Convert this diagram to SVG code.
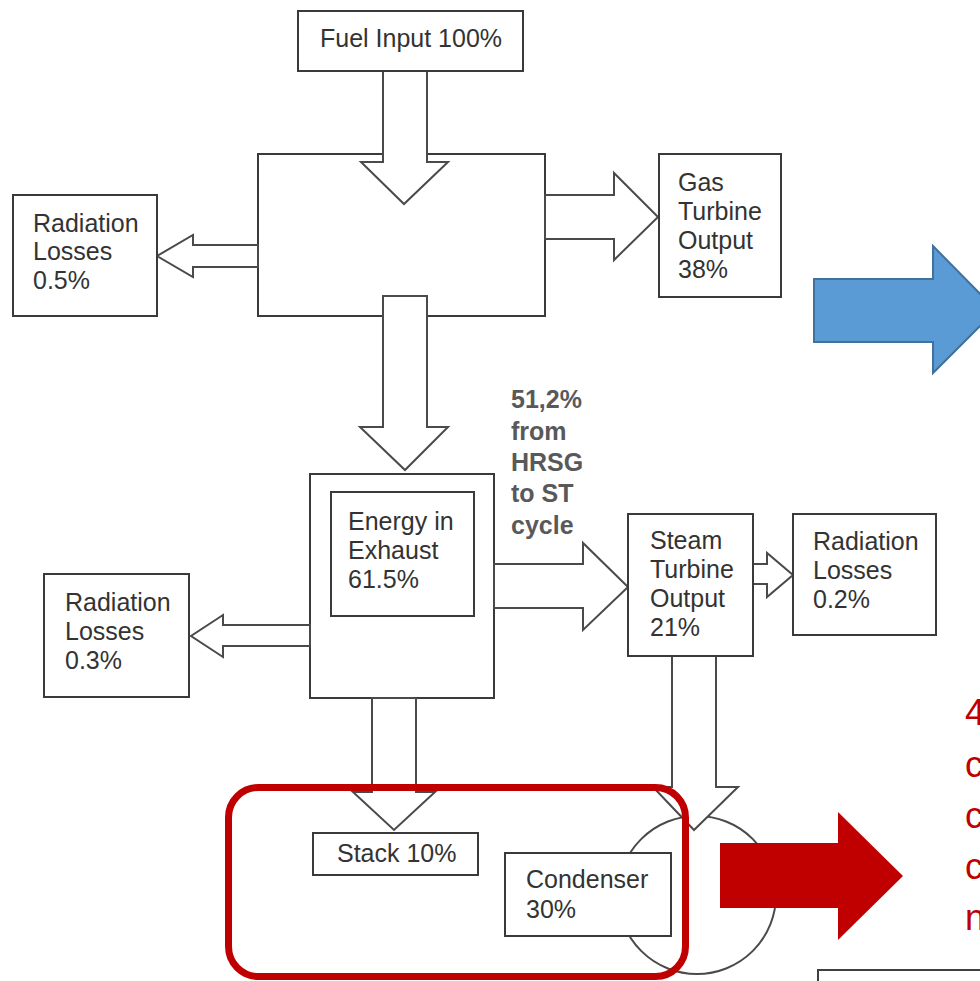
<svg xmlns="http://www.w3.org/2000/svg" width="980" height="981" viewBox="0 0 980 981">
<style>
.box{fill:#fff;stroke:#3a3a3a;stroke-width:2}
.arw{fill:#fff;stroke:#4a4a4a;stroke-width:2;stroke-linejoin:miter}
.lbl{font-family:"Liberation Sans",Arial,sans-serif;font-size:25px;fill:#333}
.note{font-family:"Liberation Sans",Arial,sans-serif;font-size:25px;font-weight:bold;fill:#595959}
.red{font-family:"Liberation Sans",Arial,sans-serif;font-size:36px;fill:#C00000}
</style>
<rect width="980" height="981" fill="#fff"/>
<g id="combustor"><rect class="box" x="258" y="154" width="287" height="162"/></g>
<g id="hrsg"><rect class="box" x="310" y="474" width="184" height="224"/></g>
<g id="condenser-circle"><circle cx="697" cy="895" r="79" fill="#fff" stroke="#4a4a4a" stroke-width="2"/></g>
<g id="connectors">
<polygon class="arw" points="383,71 383,162 361,162 404,204 448,162 427,162 427,71"/>
<polygon class="arw" points="383,296 427,296 427,427 448,427 405,470 360,427 383,427"/>
<polygon class="arw" points="545,195 614,195 614,173 658,217 614,260 614,239 545,239"/>
<polygon class="arw" points="258,245 193,245 193,235 157,256 193,277 193,267 258,267"/>
<polygon class="arw" points="494,564 583,564 583,543 628,587 583,630 583,608 494,608"/>
<polygon class="arw" points="310,625 223,625 223,615 191,636 223,657 223,646 310,646"/>
<polygon class="arw" points="753,564 767,564 767,553 793,575 767,597 767,584 753,584"/>
<polygon class="arw" points="372,698 372,792 353,792 394,830 435,792 416,792 416,698"/>
<polygon class="arw" points="672,656 672,787 653,787 694,830 738,787 716,787 716,656"/>
</g>
<g id="fuel-input"><rect class="box" x="298" y="11" width="225" height="60"/><text class="lbl" x="411" y="47" text-anchor="middle">Fuel Input 100%</text></g>
<g id="gas-turbine"><rect class="box" x="659" y="154" width="122" height="143"/>
<text class="lbl" x="678" y="191">Gas</text><text class="lbl" x="678" y="220">Turbine</text><text class="lbl" x="678" y="249">Output</text><text class="lbl" x="678" y="278">38%</text></g>
<g id="radiation-05"><rect class="box" x="13" y="195" width="144" height="121"/>
<text class="lbl" x="33" y="232">Radiation</text><text class="lbl" x="33" y="260">Losses</text><text class="lbl" x="33" y="289">0.5%</text></g>
<g id="exhaust"><rect class="box" x="331" y="492" width="143" height="124"/>
<text class="lbl" x="348" y="530">Energy in</text><text class="lbl" x="348" y="559">Exhaust</text><text class="lbl" x="348" y="588">61.5%</text></g>
<g id="radiation-03"><rect class="box" x="44" y="574" width="145" height="123"/>
<text class="lbl" x="65" y="611">Radiation</text><text class="lbl" x="65" y="640">Losses</text><text class="lbl" x="65" y="669">0.3%</text></g>
<g id="steam-turbine"><rect class="box" x="628" y="514" width="125" height="142"/>
<text class="lbl" x="650" y="549">Steam</text><text class="lbl" x="650" y="578">Turbine</text><text class="lbl" x="650" y="607">Output</text><text class="lbl" x="650" y="636">21%</text></g>
<g id="radiation-02"><rect class="box" x="793" y="514" width="143" height="121"/>
<text class="lbl" x="813" y="550">Radiation</text><text class="lbl" x="813" y="579">Losses</text><text class="lbl" x="813" y="608">0.2%</text></g>
<g id="stack"><rect class="box" x="313" y="833" width="165" height="42"/><text class="lbl" x="337" y="862">Stack 10%</text></g>
<g id="condenser"><rect class="box" x="505" y="853" width="166" height="83"/>
<text class="lbl" x="526" y="888">Condenser</text><text class="lbl" x="526" y="918">30%</text></g>
<g id="note"><text class="note" x="511" y="408">51,2%</text><text class="note" x="511" y="440">from</text><text class="note" x="511" y="471">HRSG</text><text class="note" x="511" y="502">to ST</text><text class="note" x="511" y="534">cycle</text></g>
<g id="highlight"><rect x="228.5" y="787.5" width="457" height="189" rx="30" fill="none" stroke="#C00000" stroke-width="7"/></g>
<g id="blue-arrow"><polygon points="814,279 933,279 933,246 996,310 933,373 933,342 814,342" fill="#5B9BD5" stroke="#41719C" stroke-width="2"/></g>
<g id="red-arrow"><polygon points="720,843 838,843 838,812 903,876 838,940 838,908 720,908" fill="#C00000"/></g>
<g id="red-text"><text class="red" x="965" y="725">4</text><text class="red" x="965" y="777">c</text><text class="red" x="965" y="828">c</text><text class="red" x="965" y="879">c</text><text class="red" x="965" y="930">n</text></g>
<g id="corner-box"><rect x="818" y="970" width="200" height="40" fill="#fff" stroke="#404040" stroke-width="2"/></g>
</svg>
